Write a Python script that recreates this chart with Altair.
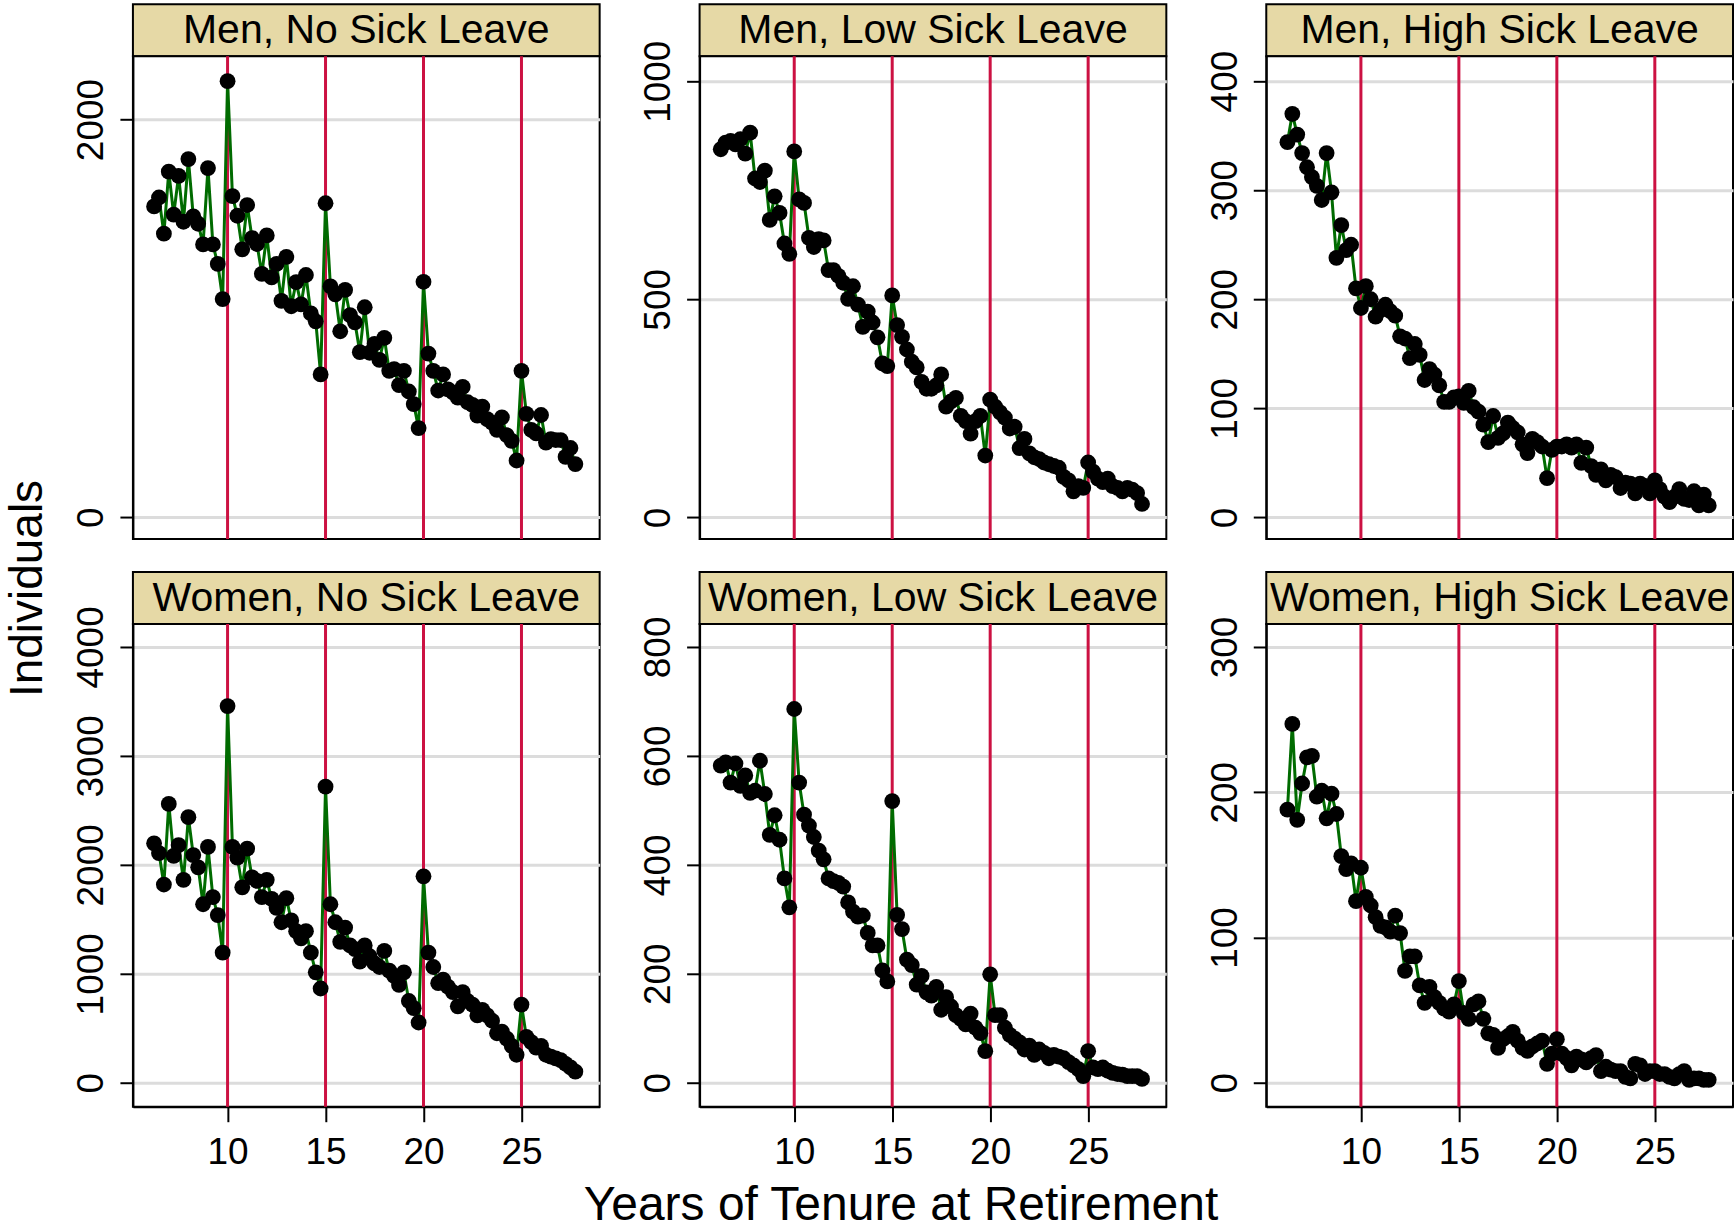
import altair as alt
import pandas as pd

# ---------------- data ----------------
TENURE = [6.25, 6.5, 6.75, 7.0, 7.25, 7.5, 7.75, 8.0, 8.25, 8.5, 8.75, 9.0,
          9.25, 9.5, 9.75, 10.0, 10.25, 10.5, 10.75, 11.0, 11.25, 11.5, 11.75, 12.0,
          12.25, 12.5, 12.75, 13.0, 13.25, 13.5, 13.75, 14.0, 14.25, 14.5, 14.75, 15.0,
          15.25, 15.5, 15.75, 16.0, 16.25, 16.5, 16.75, 17.0, 17.25, 17.5, 17.75, 18.0,
          18.25, 18.5, 18.75, 19.0, 19.25, 19.5, 19.75, 20.0, 20.25, 20.5, 20.75, 21.0,
          21.25, 21.5, 21.75, 22.0, 22.25, 22.5, 22.75, 23.0, 23.25, 23.5, 23.75, 24.0,
          24.25, 24.5, 24.75, 25.0, 25.25, 25.5, 25.75, 26.0, 26.25, 26.5, 26.75, 27.0,
          27.25, 27.5, 27.75]

CUTOFFS = [10, 15, 20, 25]
X_TICKS = [10, 15, 20, 25]

MEN_NO = [1563, 1608, 1426, 1738, 1522, 1717, 1486, 1801, 1513, 1476, 1372, 1756,
          1372, 1274, 1097, 2193, 1615, 1516, 1347, 1570, 1404, 1374, 1224, 1417,
          1206, 1274, 1088, 1309, 1061, 1182, 1070, 1218, 1025, 985, 718, 1579,
          1161, 1121, 935, 1143, 1016, 980, 830, 1056, 827, 872, 791, 902,
          736, 745, 664, 736, 632, 569, 448, 1184, 823, 736, 637, 718,
          643, 628, 601, 655, 578, 565, 511, 556, 493, 475, 439, 502,
          412, 384, 285, 736, 520, 439, 421, 514, 375, 393, 388, 388,
          303, 348, 267]

MEN_LOW = [844, 859, 863, 855, 867, 834, 882, 777, 769, 795, 682, 736,
           698, 628, 604, 839, 729, 721, 641, 620, 638, 635, 567, 567,
           554, 538, 501, 530, 488, 437, 472, 447, 413, 353, 347, 509,
           441, 414, 385, 357, 344, 311, 295, 295, 303, 328, 254, 266,
           274, 233, 221, 192, 221, 233, 142, 270, 254, 241, 229, 204,
           208, 159, 180, 147, 138, 134, 126, 122, 118, 114, 93, 85,
           60, 72, 68, 126, 105, 89, 81, 89, 72, 68, 60, 68,
           64, 56, 31]

MEN_HIGH = [344, 370, 351, 334, 321, 312, 304, 291, 334, 298, 238, 268,
            245, 250, 210, 192, 212, 200, 184, 190, 195, 189, 185, 166,
            164, 146, 159, 149, 126, 136, 131, 121, 106, 106, 110, 111,
            105, 116, 101, 97, 85, 69, 93, 73, 77, 87, 82, 78,
            67, 59, 72, 69, 65, 36, 62, 65, 65, 67, 64, 67,
            50, 64, 47, 39, 44, 34, 39, 37, 27, 32, 31, 22,
            31, 29, 22, 34, 26, 19, 14, 19, 26, 17, 16, 24,
            11, 21, 11]

WOMEN_NO = [2197, 2108, 1819, 2559, 2082, 2181, 1862, 2437, 2089, 1977, 1638, 2164,
            1704, 1539, 1194, 3457, 2164, 2066, 1793, 2148, 1885, 1852, 1704, 1862,
            1687, 1605, 1473, 1694, 1490, 1391, 1325, 1391, 1194, 1013, 865, 2717,
            1638, 1473, 1293, 1424, 1260, 1227, 1112, 1260, 1161, 1095, 1062, 1210,
            1029, 980, 898, 1013, 750, 684, 553, 1894, 1194, 1062, 914, 947,
            881, 832, 701, 832, 750, 717, 618, 668, 618, 569, 454, 470,
            405, 339, 257, 717, 421, 372, 322, 339, 257, 240, 224, 207,
            174, 141, 102]

WOMEN_LOW = [582, 588, 551, 586, 545, 564, 532, 536, 591, 530, 455, 491,
             446, 375, 322, 686, 551, 492, 472, 451, 426, 410, 375, 370,
             367, 360, 331, 314, 305, 307, 275, 252, 252, 206, 186, 517,
             308, 282, 226, 216, 180, 196, 166, 160, 176, 134, 157, 140,
             124, 117, 107, 127, 101, 91, 58, 199, 124, 124, 101, 88,
             81, 74, 61, 68, 51, 61, 55, 45, 51, 48, 45, 38,
             32, 25, 12, 58, 28, 25, 28, 22, 18, 16, 15, 12,
             12, 12, 7]

WOMEN_HIGH = [188, 247, 181, 206, 224, 225, 197, 201, 182, 199, 185, 156,
              147, 151, 125, 148, 128, 122, 114, 108, 107, 104, 115, 103,
              77, 87, 87, 67, 55, 66, 59, 55, 51, 49, 54, 70,
              48, 44, 54, 56, 44, 34, 33, 24, 30, 32, 35, 29,
              24, 22, 25, 27, 29, 13, 20, 30, 20, 17, 12, 18,
              16, 14, 17, 19, 8, 11, 9, 8, 8, 4, 3, 13,
              12, 6, 8, 8, 6, 6, 4, 3, 6, 8, 2, 3,
              3, 2, 2]

PANEL_TITLES = ["Men, No Sick Leave", "Men, Low Sick Leave", "Men, High Sick Leave",
                "Women, No Sick Leave", "Women, Low Sick Leave", "Women, High Sick Leave"]
PANEL_VALUES = [MEN_NO, MEN_LOW, MEN_HIGH, WOMEN_NO, WOMEN_LOW, WOMEN_HIGH]
Y_DOMAINS = [[-110, 2318], [-49.4, 1057], [-19.8, 422.7],
             [-220, 4210], [-44, 842], [-16.5, 315.8]]
Y_TICKS = [[0, 2000], [0, 500, 1000], [0, 100, 200, 300, 400],
           [0, 1000, 2000, 3000, 4000], [0, 200, 400, 600, 800], [0, 100, 200, 300]]

X_TITLE = "Years of Tenure at Retirement"
Y_TITLE = "Individuals"

# ---------------- style ----------------
FONT = "Liberation Sans"
TAN = "#E6D9A6"
RED = "#CC1142"
GREEN = "#006B00"
GRID = "#DCDCDC"
X_DOMAIN = [5.17, 28.99]

W = 467
H = 483
STRIP_H = 52
ROW_GAP = 33


def make_plot(idx):
    row, col = divmod(idx, 3)
    df = pd.DataFrame({"tenure": TENURE, "n": PANEL_VALUES[idx]})
    cut_df = pd.DataFrame({"tenure": CUTOFFS})

    xscale = alt.Scale(domain=X_DOMAIN, nice=False, zero=False)
    if row == 0:
        x_enc = alt.X("tenure:Q", scale=xscale, axis=None)
    elif col == 1:
        x_enc = alt.X(
            "tenure:Q", scale=xscale, title=X_TITLE,
            axis=alt.Axis(values=X_TICKS, grid=False, tickSize=15, labelPadding=13,
                          labelAngle=0, labelFlush=False, labelOverlap=False,
                          titleX=201, titleY=113, titleAlign="center",
                          titleBaseline="alphabetic", titleFontSize=48),
        )
    else:
        x_enc = alt.X(
            "tenure:Q", scale=xscale, title=None,
            axis=alt.Axis(values=X_TICKS, grid=False, tickSize=15, labelPadding=13,
                          labelAngle=0, labelFlush=False, labelOverlap=False),
        )

    yscale = alt.Scale(domain=Y_DOMAINS[idx], nice=False, zero=False)
    yaxis_kw = dict(values=Y_TICKS[idx], format="d", labelAngle=270, labelAlign="center",
                    labelBaseline="alphabetic", labelPadding=17, tickSize=13,
                    grid=True, gridColor=GRID, gridWidth=3,
                    labelFlush=False, labelOverlap=False)
    if idx == 0:
        y_enc = alt.Y("n:Q", scale=yscale, title=Y_TITLE,
                      axis=alt.Axis(titleX=-91, titleY=532, titleAngle=270,
                                    titleAlign="center", titleBaseline="alphabetic",
                                    **yaxis_kw))
    else:
        y_enc = alt.Y("n:Q", scale=yscale, title=None, axis=alt.Axis(**yaxis_kw))

    rules = alt.Chart(cut_df).mark_rule(color=RED, strokeWidth=3).encode(x=x_enc)
    line = alt.Chart(df).mark_line(color=GREEN, strokeWidth=3).encode(x=x_enc, y=y_enc)
    pts = alt.Chart(df).mark_circle(color="black", opacity=1, size=250).encode(x=x_enc, y=y_enc)
    return alt.layer(rules, line, pts).properties(width=W, height=H)


def make_strip(idx, top):
    sdf = pd.DataFrame({"label": [PANEL_TITLES[idx]]})
    box = alt.Chart(sdf).mark_rect(fill=TAN, stroke="black", strokeWidth=2).encode(
        x=alt.value(0), x2=alt.value(W), y=alt.value(top), y2=alt.value(top + STRIP_H)
    )
    txt = alt.Chart(sdf).mark_text(
        font=FONT, fontSize=41, color="black", align="center", baseline="middle"
    ).encode(x=alt.value(W / 2), y=alt.value(top + STRIP_H / 2 + 1), text="label:N")
    return alt.layer(box, txt).properties(
        width=W, height=top + STRIP_H,
        view=alt.ViewBackground(fill="transparent", stroke="transparent"),
    )


cells = []
cells += [make_strip(i, 0) for i in range(3)]
cells += [make_plot(i) for i in range(3)]
cells += [make_strip(i, ROW_GAP) for i in range(3, 6)]
cells += [make_plot(i) for i in range(3, 6)]

chart = alt.concat(
    *cells, columns=3, spacing={"row": 0, "column": 100}, bounds="flush"
).properties(
    padding={"left": 4, "top": 2, "right": 0, "bottom": 0},
    background="white",
).configure_view(
    stroke="black", strokeWidth=2, fill="white"
).configure_axis(
    labelFont=FONT, titleFont=FONT, labelFontSize=37, titleFontSize=46,
    labelColor="black", titleColor="black", titleFontWeight="normal",
    tickColor="black", domainColor="black", tickWidth=2, domainWidth=2,
)

chart.save("out.html", embed_options={"renderer": "svg", "actions": False})
